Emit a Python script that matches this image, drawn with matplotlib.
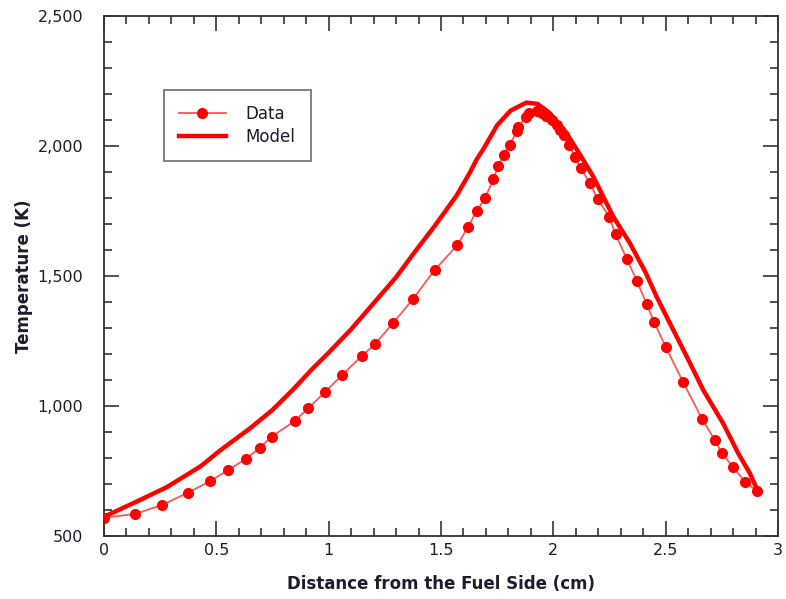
import numpy as np
from matplotlib import pyplot as plt
from matplotlib.ticker import MultipleLocator, FuncFormatter

# measured flame temperature (dots)
data_x = [0.00, 0.14, 0.26, 0.375, 0.47, 0.55, 0.63, 0.695, 0.746, 0.85, 0.909,
          0.984, 1.06, 1.147, 1.206, 1.288, 1.374, 1.473, 1.573, 1.621, 1.659,
          1.696, 1.733, 1.755, 1.78, 1.807, 1.838, 1.844, 1.878, 1.893, 1.926,
          1.948, 1.968, 1.993, 2.015, 2.03, 2.049, 2.07, 2.097, 2.123, 2.163,
          2.197, 2.249, 2.277, 2.328, 2.372, 2.416, 2.448, 2.5, 2.578, 2.663,
          2.719, 2.749, 2.798, 2.853, 2.906]
data_t = [570, 585, 620, 667, 710, 752, 796, 840, 882, 943, 991,
          1054, 1119, 1192, 1238, 1320, 1410, 1524, 1619, 1690, 1750,
          1800, 1872, 1923, 1965, 2004, 2059, 2074, 2113, 2126, 2135,
          2126, 2115, 2100, 2081, 2062, 2042, 2004, 1959, 1914, 1857,
          1796, 1728, 1660, 1564, 1481, 1391, 1324, 1228, 1091, 949,
          869, 820, 767, 709, 673]

# model prediction (thick line)
model_x = [0.0, 0.13, 0.28, 0.43, 0.52, 0.65, 0.75, 0.84, 0.93, 1.0, 1.1, 1.2,
           1.3, 1.39, 1.47, 1.57, 1.63, 1.66, 1.69, 1.72, 1.75, 1.81, 1.88,
           1.93, 1.985, 2.059, 2.12, 2.178, 2.267, 2.341, 2.41, 2.46, 2.519,
           2.594, 2.667, 2.756, 2.823, 2.875, 2.898, 2.91]
model_t = [574, 626, 688, 768, 831, 914, 985, 1062, 1145, 1205, 1295, 1395,
           1495, 1600, 1690, 1810, 1900, 1950, 1990, 2035, 2080, 2136, 2167,
           2162, 2126, 2049, 1965, 1882, 1728, 1626, 1515, 1420, 1318,
           1190, 1062, 933, 818, 741, 696, 677]

red = "#ff0000"
text_color = "#1c1c2a"

fig = plt.figure(figsize=(7.86, 5.99), dpi=100)
ax = fig.add_axes([0.1323, 0.1052, 0.8575, 0.8681])

ax.plot(data_x, data_t, color="#ff5555", lw=1.3, marker="o", ms=7,
        mfc=red, mec=red, label="Data", zorder=3)
ax.plot(model_x, model_t, color=red, lw=3.2, label="Model", zorder=2)

ax.set_xlim(0, 3)
ax.set_ylim(500, 2500)
ax.xaxis.set_major_locator(MultipleLocator(0.5))
ax.xaxis.set_minor_locator(MultipleLocator(0.1))
ax.yaxis.set_major_locator(MultipleLocator(500))
ax.yaxis.set_minor_locator(MultipleLocator(100))
ax.xaxis.set_major_formatter(FuncFormatter(lambda v, p: "{:g}".format(v)))
ax.yaxis.set_major_formatter(FuncFormatter(lambda v, p: "{:,.0f}".format(v)))

ax.tick_params(which="both", direction="in", top=True, right=True,
               colors="#333333", labelcolor=text_color, labelsize=11.5, width=1.2)
ax.tick_params(which="major", length=11)
ax.tick_params(which="minor", length=6)
ax.tick_params(axis="x", which="major", pad=5)
ax.tick_params(axis="y", which="major", pad=15)
for s in ax.spines.values():
    s.set_color("#333333")
    s.set_linewidth(1.3)

ax.set_xlabel("Distance from the Fuel Side (cm)", fontsize=12, fontweight="bold",
              color=text_color, labelpad=12)
ax.set_ylabel("Temperature (K)", fontsize=12, fontweight="bold",
              color=text_color, labelpad=3)

leg = ax.legend(loc="upper left", bbox_to_anchor=(0.089, 0.858), fontsize=12,
                frameon=True, fancybox=False, borderaxespad=0, handlelength=2.8,
                borderpad=0.9, labelspacing=0.3, handletextpad=1.2)
leg.get_frame().set_edgecolor("#555555")
leg.get_frame().set_linewidth(1.3)
for t in leg.get_texts():
    t.set_color(text_color)

fig.savefig("out.png", dpi=100, facecolor="white")
